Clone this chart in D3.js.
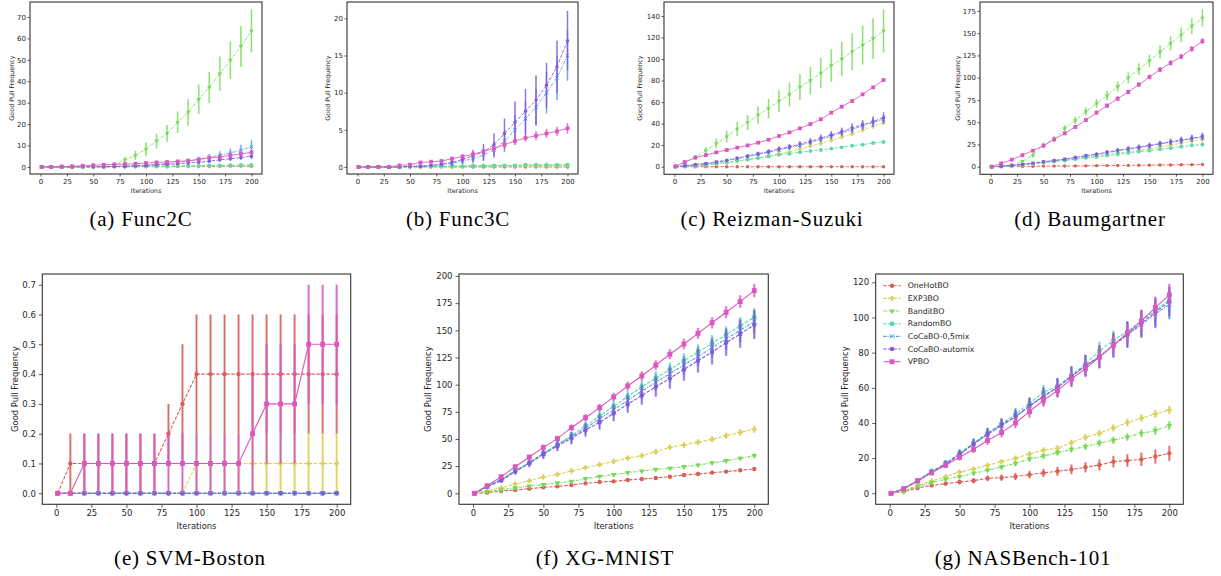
<!DOCTYPE html>
<html>
<head>
<meta charset="utf-8">
<script src="https://cdn.jsdelivr.net/npm/d3@7"></script>
<style>
body { margin: 0; background: #fff; }
svg { display: block; font-family: "DejaVu Sans", sans-serif; }
</style>
</head>
<body>
<script>
const w = 1221;
const h = 576;

const iters = [1, 10, 20, 30, 40, 50, 60, 70, 80, 90, 100, 110, 120, 130, 140, 150, 160, 170, 180, 190, 200];
const methods = ["OneHotBO", "EXP3BO", "BanditBO", "RandomBO", "CoCaBO-0,5mix", "CoCaBO-automix", "VPBO"];
const colors = ["#db5f57", "#dbd057", "#75db57", "#57dbaa", "#579bdb", "#8457db", "#db57c0"];
const xTicks = [0, 25, 50, 75, 100, 125, 150, 175, 200];

const yTicksFunc2C = [0, 10, 20, 30, 40, 50, 60, 70];
const yTicksFunc3C = [0, 5, 10, 15, 20];
const yTicksReizman = [0, 20, 40, 60, 80, 100, 120, 140];
const yTicksBaum = [0, 25, 50, 75, 100, 125, 150, 175];
const yTicksSvm = [0, 0.1, 0.2, 0.3, 0.4, 0.5, 0.6, 0.7];
const yTicksXg = [0, 25, 50, 75, 100, 125, 150, 175, 200];
const yTicksNas = [0, 20, 40, 60, 80, 100, 120];

// rows follow the order of methods
const meanFunc2C = [
  [0, 0, 0, 0, 0, 0, 0, 0.1, 0.1, 0.1, 0.1, 0.1, 0.1, 0.2, 0.2, 0.2, 0.2, 0.2, 0.3, 0.3, 0.3],
  [0, 0, 0, 0, 0, 0.1, 0.1, 0.1, 0.1, 0.2, 0.2, 0.2, 0.3, 0.3, 0.3, 0.4, 0.4, 0.5, 0.5, 0.5, 0.6],
  [0, 0, 0, 0, 0, 0, 0.1, 0.5, 3.3, 5.4, 8.3, 12.1, 15.7, 20.9, 25.5, 31.6, 37.2, 43.5, 49.8, 56.2, 63.5],
  [0, 0, 0, 0, 0.1, 0.1, 0.1, 0.2, 0.2, 0.3, 0.3, 0.4, 0.4, 0.5, 0.5, 0.6, 0.7, 0.7, 0.8, 0.9, 1.0],
  [0, 0, 0, 0.1, 0.1, 0.1, 0.2, 0.3, 0.4, 0.6, 0.9, 1.2, 1.6, 2.0, 2.8, 3.6, 4.5, 5.5, 6.5, 7.8, 9.5],
  [0, 0, 0, 0, 0.1, 0.1, 0.1, 0.2, 0.3, 0.5, 0.7, 1.0, 1.2, 1.5, 1.8, 2.2, 2.7, 3.3, 3.8, 4.4, 5.0],
  [0, 0, 0.2, 0.3, 0.5, 0.8, 1.0, 1.2, 1.3, 1.5, 1.8, 2.1, 2.3, 2.6, 2.9, 3.4, 4.3, 4.6, 5.4, 6.1, 6.8]
];
const errFunc2C = [
  [0, 0, 0, 0, 0, 0, 0, 0.1, 0.1, 0.1, 0.1, 0.1, 0.1, 0.1, 0.1, 0.2, 0.2, 0.2, 0.2, 0.2, 0.2],
  [0, 0, 0, 0, 0, 0.1, 0.1, 0.1, 0.1, 0.1, 0.2, 0.2, 0.2, 0.2, 0.2, 0.3, 0.3, 0.3, 0.3, 0.3, 0.4],
  [0, 0, 0, 0, 0, 0, 0.1, 0.5, 1.5, 2.1, 3.1, 3.4, 3.9, 5.0, 6.2, 6.8, 7.2, 8.0, 8.7, 9.5, 10.0],
  [0, 0, 0, 0, 0.1, 0.1, 0.1, 0.1, 0.1, 0.1, 0.2, 0.2, 0.2, 0.2, 0.2, 0.2, 0.3, 0.3, 0.3, 0.3, 0.3],
  [0, 0, 0, 0.1, 0.1, 0.1, 0.2, 0.2, 0.3, 0.4, 0.5, 0.6, 0.7, 0.8, 1.0, 1.2, 1.5, 1.8, 2.1, 2.5, 2.9],
  [0, 0, 0, 0, 0.1, 0.1, 0.1, 0.2, 0.2, 0.3, 0.3, 0.4, 0.4, 0.5, 0.6, 0.7, 0.8, 0.9, 1.0, 1.1, 1.3],
  [0, 0, 0.1, 0.1, 0.2, 0.2, 0.3, 0.3, 0.3, 0.4, 0.4, 0.4, 0.5, 0.5, 0.5, 0.6, 0.6, 0.7, 0.7, 0.8, 0.9]
];

const meanFunc3C = [
  [0, 0, 0, 0, 0, 0, 0, 0, 0, 0, 0, 0, 0, 0, 0, 0, 0, 0, 0, 0, 0],
  [0, 0, 0, 0, 0, 0, 0, 0, 0, 0, 0.1, 0.1, 0.1, 0.1, 0.1, 0.1, 0.1, 0.1, 0.1, 0.1, 0.1],
  [0, 0, 0, 0, 0, 0, 0, 0.1, 0.1, 0.1, 0.1, 0.1, 0.1, 0.2, 0.2, 0.2, 0.2, 0.2, 0.2, 0.2, 0.2],
  [0, 0, 0, 0, 0, 0, 0.1, 0.1, 0.1, 0.1, 0.1, 0.2, 0.2, 0.2, 0.2, 0.2, 0.3, 0.3, 0.3, 0.3, 0.3],
  [0, 0, 0, 0, 0, 0.1, 0.1, 0.2, 0.3, 0.5, 0.8, 1.1, 1.6, 2.3, 3.5, 5.0, 6.5, 8.0, 10.0, 12.0, 15.0],
  [0, 0, 0, 0, 0, 0.1, 0.1, 0.2, 0.4, 0.6, 1.0, 1.5, 2.0, 3.0, 4.5, 6.0, 7.5, 9.0, 11.0, 13.5, 17.0],
  [0, 0, 0, 0, 0.2, 0.3, 0.6, 0.7, 0.8, 1.1, 1.4, 1.7, 2.1, 2.5, 3.0, 3.5, 3.9, 4.2, 4.5, 4.8, 5.2]
];
const errFunc3C = [
  [0, 0, 0, 0, 0, 0, 0, 0, 0, 0, 0, 0, 0, 0, 0, 0, 0, 0, 0, 0, 0],
  [0, 0, 0, 0, 0, 0, 0, 0, 0, 0, 0.1, 0.1, 0.1, 0.1, 0.1, 0.1, 0.1, 0.1, 0.1, 0.1, 0.1],
  [0, 0, 0, 0, 0, 0, 0, 0.1, 0.1, 0.1, 0.1, 0.1, 0.1, 0.1, 0.1, 0.1, 0.1, 0.1, 0.1, 0.1, 0.1],
  [0, 0, 0, 0, 0, 0, 0.1, 0.1, 0.1, 0.1, 0.1, 0.1, 0.1, 0.1, 0.1, 0.2, 0.2, 0.2, 0.2, 0.2, 0.2],
  [0, 0, 0, 0, 0, 0.1, 0.1, 0.1, 0.2, 0.3, 0.4, 0.6, 0.8, 1.1, 1.5, 2.0, 2.3, 2.5, 2.8, 3.0, 3.4],
  [0, 0, 0, 0, 0, 0.1, 0.1, 0.2, 0.3, 0.4, 0.6, 0.8, 1.1, 1.5, 2.0, 2.8, 3.0, 3.3, 3.0, 3.5, 4.0],
  [0, 0, 0, 0, 0.1, 0.1, 0.2, 0.2, 0.2, 0.3, 0.3, 0.3, 0.4, 0.4, 0.5, 0.5, 0.5, 0.6, 0.6, 0.6, 0.7]
];

const meanReizman = [
  [0, 0, 0, 0, 0, 0, 0, 0, 0, 0, 0, 0, 0, 0, 0, 0, 0, 0, 0, 0, 0],
  [0, 0.5, 1, 1.5, 2.5, 3.5, 5, 6.5, 8, 10, 12, 14, 16.5, 19, 21.5, 24.5, 27.5, 30.5, 34, 37.5, 41],
  [0, 4, 9, 15, 21.5, 28, 35, 41, 48, 54, 61, 67, 74, 80, 87, 94, 100, 107, 113, 119, 126],
  [0, 0.5, 1, 2, 3, 4, 5.5, 6.8, 8, 9.5, 11, 12, 13.5, 14.5, 15.5, 16.8, 18, 19.5, 20.5, 22, 23],
  [0, 0.5, 1.5, 2.5, 4, 5.5, 7.5, 9.5, 11.5, 13.5, 15.5, 18, 20, 22.5, 25.5, 28.5, 31.5, 34.5, 38, 41, 44],
  [0, 1, 2, 3, 4.5, 6, 8, 10, 12, 14, 16.5, 18.5, 21, 23.5, 26.5, 29.5, 32.5, 36, 39, 42, 45.5],
  [0.5, 4.3, 8.4, 10.8, 13.3, 15.5, 17.7, 19.8, 22.3, 25.1, 28.5, 31.9, 35.6, 39.6, 44, 50.2, 55.8, 61, 67.2, 73.7, 80.5]
];
const errReizman = [
  [0, 0, 0, 0.3, 0.2, 0.2, 0.2, 0.2, 0.2, 0.2, 0.2, 0.2, 0.2, 0.2, 0.2, 0.2, 0.2, 0.2, 0.2, 0.2, 0.2],
  [0, 0.2, 0.4, 0.5, 0.6, 0.8, 0.8, 0.9, 1.1, 1.1, 1.2, 1.4, 1.4, 1.5, 1.7, 1.7, 1.8, 2.0, 2.0, 2.1, 2.3],
  [0, 1.0, 2.0, 3.1, 4.6, 5.4, 6.5, 7.0, 8.0, 9.0, 10.0, 11.0, 12.0, 12.7, 14.0, 15.0, 16.0, 17.0, 18.0, 18.7, 19.8],
  [0, 0.2, 0.3, 0.4, 0.5, 0.5, 0.6, 0.6, 0.7, 0.7, 0.8, 0.8, 0.9, 0.9, 1.0, 1.0, 1.1, 1.1, 1.2, 1.2, 1.3],
  [0, 0.3, 0.5, 0.7, 0.9, 1.1, 1.3, 1.5, 1.7, 1.9, 2.1, 2.3, 2.5, 2.7, 2.9, 3.1, 3.3, 3.5, 3.7, 3.9, 4.1],
  [0, 0.4, 0.6, 0.8, 1.0, 1.2, 1.5, 1.7, 1.9, 2.2, 2.4, 2.6, 2.9, 3.1, 3.4, 3.6, 3.8, 4.1, 4.3, 4.6, 4.9],
  [0, 0.3, 0.4, 0.4, 0.5, 0.5, 0.5, 0.6, 0.6, 0.6, 0.7, 0.7, 0.7, 0.8, 0.8, 0.8, 0.9, 0.9, 0.9, 1.0, 1.0]
];

const meanBaum = [
  [0, 0.2, 0.3, 0.4, 0.5, 0.7, 0.7, 0.8, 0.9, 1, 1.2, 1.3, 1.4, 1.5, 1.6, 1.8, 1.9, 2, 2.2, 2.3, 2.5],
  [0, 0.4, 1, 2, 3.2, 4.5, 5.8, 7.2, 8.8, 10.3, 11.8, 13.4, 15, 16.8, 18.5, 20.3, 22.2, 24.3, 26.5, 28.8, 31],
  [0, 0.2, 1, 6, 13, 24.5, 31, 43, 52, 62, 71, 80, 90, 100, 109.5, 119, 129, 138.5, 148, 158, 167],
  [0, 0.5, 1.5, 2.5, 3.5, 5, 6, 7, 8.5, 10, 11, 12.5, 14, 15.5, 17, 18, 19.5, 21, 22.5, 24, 25],
  [0, 0.5, 1.5, 2.5, 4, 5.3, 6.8, 8.3, 10, 12, 13.5, 15.5, 17.8, 19.5, 21.5, 23.3, 25.5, 27.3, 29.2, 31.5, 33.5],
  [0, 0.6, 1.6, 2.7, 4.1, 5.6, 7, 8.6, 10.5, 12.5, 14, 16.3, 18.5, 20.3, 22, 24, 26, 28, 30, 32, 34],
  [0, 3.7, 7.9, 13, 18, 23.6, 30.7, 37.5, 44.6, 52.5, 60.7, 68.6, 76.5, 84, 92.2, 100.8, 109, 116.6, 123.7, 132.3, 141]
];
const errBaum = [
  [0, 0.1, 0.2, 0.2, 0.2, 0.3, 0.3, 0.3, 0.3, 0.3, 0.4, 0.4, 0.4, 0.4, 0.4, 0.5, 0.5, 0.5, 0.5, 0.5, 0.6],
  [0, 0.3, 0.5, 0.7, 0.9, 1.0, 1.1, 1.2, 1.4, 1.5, 1.6, 1.8, 1.9, 2.0, 2.1, 2.3, 2.4, 2.5, 2.7, 2.8, 3.0],
  [0, 0.2, 0.8, 1.6, 2.3, 2.9, 3.3, 3.6, 4.1, 4.4, 5.0, 5.3, 5.6, 6.1, 6.5, 6.8, 7.4, 7.9, 8.3, 8.8, 9.5],
  [0, 0.3, 0.4, 0.5, 0.6, 0.7, 0.8, 0.9, 1.0, 1.0, 1.1, 1.2, 1.2, 1.3, 1.4, 1.4, 1.5, 1.6, 1.6, 1.7, 1.8],
  [0, 0.3, 0.5, 0.7, 0.9, 1.1, 1.3, 1.4, 1.6, 1.8, 2.0, 2.2, 2.4, 2.5, 2.7, 2.9, 3.1, 3.2, 3.4, 3.6, 3.8],
  [0, 0.4, 0.6, 0.8, 1.0, 1.2, 1.4, 1.6, 1.8, 2.0, 2.2, 2.4, 2.6, 2.8, 3.0, 3.1, 3.3, 3.5, 3.7, 3.9, 4.1],
  [0, 0.4, 0.6, 0.9, 1.1, 1.3, 1.5, 1.7, 1.9, 2.0, 2.2, 2.3, 2.5, 2.6, 2.7, 2.8, 2.9, 3.0, 3.1, 3.2, 3.3]
];

const meanSvm = [
  [0, 0.1, 0.1, 0.1, 0.1, 0.1, 0.1, 0.1, 0.2, 0.3, 0.4, 0.4, 0.4, 0.4, 0.4, 0.4, 0.4, 0.4, 0.4, 0.4, 0.4],
  [0, 0, 0, 0, 0, 0, 0, 0, 0, 0, 0.1, 0.1, 0.1, 0.1, 0.1, 0.1, 0.1, 0.1, 0.1, 0.1, 0.1],
  [0, 0, 0, 0, 0, 0, 0, 0, 0, 0, 0, 0, 0, 0, 0, 0, 0, 0, 0, 0, 0],
  [0, 0, 0, 0, 0, 0, 0, 0, 0, 0, 0, 0, 0, 0, 0, 0, 0, 0, 0, 0, 0],
  [0, 0, 0, 0, 0, 0, 0, 0, 0, 0, 0, 0, 0, 0, 0, 0, 0, 0, 0, 0, 0],
  [0, 0, 0, 0, 0, 0, 0, 0, 0, 0, 0, 0, 0, 0, 0, 0, 0, 0, 0, 0, 0],
  [0, 0, 0.1, 0.1, 0.1, 0.1, 0.1, 0.1, 0.1, 0.1, 0.1, 0.1, 0.1, 0.1, 0.2, 0.3, 0.3, 0.3, 0.5, 0.5, 0.5]
];
const errSvm = [
  [0, 0.1, 0.1, 0.1, 0.1, 0.1, 0.1, 0.1, 0.1, 0.2, 0.2, 0.2, 0.2, 0.2, 0.2, 0.2, 0.2, 0.2, 0.2, 0.2, 0.2],
  [0, 0, 0, 0, 0, 0, 0, 0, 0, 0, 0.1, 0.1, 0.1, 0.1, 0.1, 0.1, 0.1, 0.1, 0.1, 0.1, 0.1],
  [0, 0, 0, 0, 0, 0, 0, 0, 0, 0, 0, 0, 0, 0, 0, 0, 0, 0, 0, 0, 0],
  [0, 0, 0, 0, 0, 0, 0, 0, 0, 0, 0, 0, 0, 0, 0, 0, 0, 0, 0, 0, 0],
  [0, 0, 0, 0, 0, 0, 0, 0, 0, 0, 0, 0, 0, 0, 0, 0, 0, 0, 0, 0, 0],
  [0, 0, 0, 0, 0, 0, 0, 0, 0, 0, 0, 0, 0, 0, 0, 0, 0, 0, 0, 0, 0],
  [0, 0, 0.1, 0.1, 0.1, 0.1, 0.1, 0.1, 0.1, 0.1, 0.1, 0.1, 0.1, 0.1, 0.2, 0.2, 0.2, 0.2, 0.2, 0.2, 0.2]
];

const meanXg = [
  [0, 0.6, 2.1, 3, 4.3, 5.5, 6.4, 7.7, 9.2, 10.4, 11, 12.3, 13.2, 14.1, 15.3, 16.9, 17.8, 19, 20, 21.2, 22.4],
  [0, 2.5, 4.9, 8.6, 11.7, 15, 17.5, 20.5, 23.6, 26.4, 29.4, 32.5, 34.7, 38.3, 42.3, 44.5, 47, 49.7, 53, 56.1, 58.9],
  [0, 1.5, 3, 4.9, 6.7, 8, 9.5, 11, 13.5, 15.6, 17.2, 19, 20.5, 22, 23, 24.5, 26, 28, 30, 32.2, 34.7],
  [0, 6.5, 13, 21, 28.5, 37, 45, 53, 62, 71, 80, 89, 98, 106, 114, 122, 130, 138, 146, 154, 162],
  [0, 6.3, 12.5, 20.5, 28, 36.5, 44.5, 52, 60, 68.5, 77, 85.5, 94, 102, 110, 118, 126, 134, 142, 150, 158],
  [0, 6, 11.7, 20, 27.6, 35.9, 43.6, 50.6, 58.3, 65.3, 73.6, 82, 90, 98, 105.8, 114, 122, 130, 138.6, 146.6, 155],
  [0, 7, 15.3, 24.5, 33.4, 42.3, 50.3, 60.4, 69.6, 78.8, 88.7, 98.8, 108, 118, 128, 137.4, 147.2, 157, 166.6, 176.4, 186.5]
];
const errXg = [
  [0, 0.3, 0.4, 0.5, 0.5, 0.6, 0.6, 0.7, 0.7, 0.8, 0.8, 0.9, 0.9, 1.0, 1.0, 1.1, 1.1, 1.2, 1.2, 1.3, 1.4],
  [0, 0.5, 0.8, 1.0, 1.2, 1.3, 1.4, 1.5, 1.6, 1.8, 1.9, 2.0, 2.1, 2.3, 2.4, 2.5, 2.6, 2.7, 2.8, 3.0, 3.2],
  [0, 0.3, 0.5, 0.6, 0.7, 0.8, 0.9, 1.0, 1.0, 1.1, 1.2, 1.2, 1.3, 1.3, 1.4, 1.4, 1.5, 1.5, 1.6, 1.7, 1.8],
  [0, 0.8, 1.5, 2.0, 2.5, 3.0, 3.4, 3.8, 4.2, 4.6, 5.0, 5.4, 5.8, 6.2, 6.5, 6.8, 7.1, 7.4, 7.7, 8.0, 8.3],
  [0, 0.9, 1.7, 2.3, 2.9, 3.5, 4.0, 4.5, 5.0, 5.5, 6.0, 6.5, 7.0, 7.5, 8.0, 8.5, 9.0, 9.5, 10.0, 10.5, 11.0],
  [0, 1.0, 2.0, 2.8, 3.5, 4.2, 4.8, 5.4, 6.0, 6.6, 7.2, 7.8, 8.4, 9.0, 9.6, 10.2, 10.8, 11.4, 12.0, 12.6, 13.0],
  [0, 0.8, 1.2, 1.6, 2.0, 2.3, 2.6, 2.9, 3.2, 3.5, 3.8, 4.0, 4.2, 4.4, 4.6, 4.8, 5.0, 5.2, 5.5, 5.8, 6.0]
];

const meanNas = [
  [0, 1, 3, 4.5, 5.5, 6.4, 7.2, 8.5, 8.9, 9.5, 10.6, 11.6, 12.5, 13.6, 14.8, 16.1, 18, 18.6, 19.3, 20.9, 22.7],
  [0, 1.5, 4.5, 7, 9.5, 12.1, 13.8, 15.9, 18, 19.9, 22.4, 24.5, 25.6, 28.8, 31.8, 34.1, 37.2, 40.2, 42.7, 45.1, 47.4],
  [0, 1, 4, 6, 8, 9.5, 11.4, 13.1, 15, 17, 19.5, 21.2, 23.1, 25, 26.5, 28.6, 30.1, 32, 34.1, 35.6, 38.5],
  [0, 2.8, 7.5, 12.5, 17, 23, 28.5, 34.5, 39.5, 45, 51, 57.5, 61, 67, 73.5, 81, 87, 92, 98, 104, 110],
  [0, 2.6, 7.2, 12.2, 16.8, 22.3, 28.2, 33.5, 38.5, 43.5, 49.5, 55.5, 60, 66.5, 72.5, 77.5, 84, 90, 96, 102, 107.5],
  [0, 2.5, 7, 12, 16.5, 22, 28, 33.6, 38.9, 43.6, 49.7, 55, 60.3, 66.4, 72.6, 77.7, 84.4, 90.4, 96.7, 103, 109],
  [0, 2.5, 7, 11.6, 16, 20.5, 25, 30, 34.5, 40, 46.4, 52.9, 58.4, 65, 70.9, 77.5, 84.4, 91, 98, 105.6, 112.8]
];
const errNas = [
  [0, 0.5, 0.8, 1.0, 1.1, 1.3, 1.5, 1.6, 1.8, 2.0, 2.1, 2.3, 2.5, 2.7, 2.9, 3.1, 3.3, 3.5, 3.8, 4.0, 4.3],
  [0, 0.4, 0.6, 0.7, 0.8, 0.9, 1.0, 1.1, 1.2, 1.3, 1.4, 1.5, 1.6, 1.7, 1.8, 1.9, 2.0, 2.1, 2.2, 2.3, 2.4],
  [0, 0.4, 0.6, 0.7, 0.8, 0.9, 1.0, 1.1, 1.2, 1.3, 1.4, 1.5, 1.6, 1.7, 1.8, 1.9, 2.0, 2.1, 2.2, 2.3, 2.4],
  [0, 0.6, 1.0, 1.4, 1.8, 2.2, 2.5, 2.8, 3.1, 3.4, 3.7, 4.0, 4.3, 4.6, 4.9, 5.2, 5.5, 5.8, 6.1, 6.4, 6.7],
  [0, 0.7, 1.2, 1.7, 2.1, 2.5, 2.9, 3.3, 3.7, 4.1, 4.5, 4.9, 5.3, 5.7, 6.1, 6.5, 6.9, 7.3, 7.7, 8.1, 8.5],
  [0, 0.7, 1.2, 1.7, 2.1, 2.5, 2.9, 3.3, 3.7, 4.1, 4.5, 4.9, 5.3, 5.7, 6.1, 6.5, 6.9, 7.3, 7.7, 8.1, 8.5],
  [0, 0.5, 0.9, 1.2, 1.5, 1.8, 2.1, 2.4, 2.7, 3.0, 3.3, 3.6, 3.9, 4.2, 4.5, 4.8, 5.1, 5.4, 5.7, 6.2, 6.3]
];

// style for the small top row and the bigger bottom row
const small = {tick: 7, label: 6.4, tickLen: 2.5, lw: 0.85, ms: 0.6, bar: 1.8, core: 0.7, xPad: 2.5, yPad: 1.5, labDy: 19};
const big = {tick: 8.5, label: 8.4, tickLen: 3.5, lw: 1.1, ms: 1, bar: 2.6, core: 0.9, xPad: 2, yPad: 3, labDy: 24.5};

const panels = [
  {mean: meanFunc2C, err: errFunc2C, yTicks: yTicksFunc2C, box: [30, 2, 262, 174], yDom: [-3.3, 77], yLabX: 12, cap: "(a) Func2C", capX: 141, capY: 226, st: small},
  {mean: meanFunc3C, err: errFunc3C, yTicks: yTicksFunc3C, box: [347, 2, 578, 174], yDom: [-0.95, 22.2], yLabX: 328, cap: "(b) Func3C", capX: 458, capY: 226, st: small},
  {mean: meanReizman, err: errReizman, yTicks: yTicksReizman, box: [664, 2, 894, 174.3], yDom: [-7.06, 153], yLabX: 640, cap: "(c) Reizman-Suzuki", capX: 772, capY: 226, st: small},
  {mean: meanBaum, err: errBaum, yTicks: yTicksBaum, box: [980, 2, 1213, 174.3], yDom: [-8.5, 185], yLabX: 958, cap: "(d) Baumgartner", capX: 1090, capY: 226, st: small},
  {mean: meanSvm, err: errSvm, yTicks: yTicksSvm, box: [42.3, 274, 350.7, 504.3], yDom: [-0.037, 0.736], yLabX: 15, cap: "(e) SVM-Boston", capX: 190, capY: 565, st: big, fmt: ".1f"},
  {mean: meanXg, err: errXg, yTicks: yTicksXg, box: [459, 274, 768.3, 504.3], yDom: [-10.1, 201.8], yLabX: 428, cap: "(f) XG-MNIST", capX: 605, capY: 565, st: big},
  {mean: meanNas, err: errNas, yTicks: yTicksNas, box: [875.7, 274, 1183.3, 504.3], yDom: [-6.26, 124.7], yLabX: 845, cap: "(g) NASBench-101", capX: 1023, capY: 565, st: big, legend: true}
];

const dashes = ["3.5,1.5", "3.5,1.5", "3,1.2,1,1.2", "3.5,1.5", "3,1.2,1,1.2", "3.5,1.5", null];

const svg = d3.select("body")
  .append("svg")
  .attr("width", w)
  .attr("height", h);

svg.append("rect").attr("width", w).attr("height", h).attr("fill", "#fff");

// draw one marker of method i at (cx, cy)
function drawMarker(g, i, cx, cy, scale) {
  const c = colors[i];
  if (i === 4) {
    g.append("path")
      .attr("d", d3.symbol(d3.symbolTimes, 14 * scale)())
      .attr("transform", `translate(${cx},${cy})`)
      .attr("fill", "none").attr("stroke", c).attr("stroke-width", 1);
    return;
  }
  const types = [d3.symbolCircle, d3.symbolCross, d3.symbolTriangle, d3.symbolCircle, null, d3.symbolCircle, d3.symbolSquare];
  const sizes = [15, 16, 14, 19, 0, 15, 24];
  const rot = i === 2 ? " rotate(180)" : "";
  g.append("path")
    .attr("d", d3.symbol(types[i], sizes[i] * scale)())
    .attr("transform", `translate(${cx},${cy})${rot}`)
    .attr("fill", c);
}

panels.forEach(p => {
  const st = p.st;
  const [L, T, R, B] = p.box;
  const x = d3.scaleLinear().domain([-10, 210]).range([L, R]);
  const y = d3.scaleLinear().domain(p.yDom).range([B, T]);
  const g = svg.append("g");

  const xAxis = d3.axisBottom(x).tickValues(xTicks).tickSize(st.tickLen).tickPadding(st.xPad);
  const yAxis = d3.axisLeft(y).tickValues(p.yTicks).tickSize(st.tickLen).tickPadding(st.yPad);
  if (p.fmt) yAxis.tickFormat(d3.format(p.fmt));

  const gx = g.append("g").attr("transform", `translate(0,${B})`).call(xAxis);
  const gy = g.append("g").attr("transform", `translate(${L},0)`).call(yAxis);
  [gx, gy].forEach(a => {
    a.select(".domain").remove();
    a.selectAll("line").attr("stroke", "#333").attr("stroke-width", 0.8);
    a.selectAll("text").attr("fill", "#262626").style("font-size", st.tick + "px")
      .style("font-family", "'DejaVu Sans', sans-serif");
  });

  g.append("text")
    .attr("x", (L + R) / 2)
    .attr("y", B + st.labDy)
    .attr("text-anchor", "middle")
    .attr("fill", "#262626")
    .style("font-size", st.label + "px")
    .text("Iterations");

  g.append("text")
    .attr("transform", `translate(${p.yLabX},${(T + B) / 2}) rotate(-90)`)
    .attr("text-anchor", "middle")
    .attr("dy", "0.35em")
    .attr("fill", "#262626")
    .style("font-size", st.label + "px")
    .text("Good Pull Frequency");

  const line = d3.line().x((d, k) => x(iters[k])).y(d => y(d));

  methods.forEach((m, i) => {
    const mean = p.mean[i];
    const err = p.err[i];
    const c = colors[i];
    const bars = g.append("g");
    mean.forEach((v, k) => {
      if (err[k] <= 0) return;
      bars.append("line")
        .attr("x1", x(iters[k])).attr("x2", x(iters[k]))
        .attr("y1", y(v - err[k])).attr("y2", y(v + err[k]))
        .attr("stroke", c).attr("stroke-opacity", 0.5).attr("stroke-width", st.bar);
      bars.append("line")
        .attr("x1", x(iters[k])).attr("x2", x(iters[k]))
        .attr("y1", y(v - err[k])).attr("y2", y(v + err[k]))
        .attr("stroke", c).attr("stroke-width", st.core);
    });
    g.append("path")
      .datum(mean)
      .attr("d", line)
      .attr("fill", "none")
      .attr("stroke", c)
      .attr("stroke-width", st.lw)
      .attr("stroke-dasharray", dashes[i]);
    const mk = g.append("g");
    mean.forEach((v, k) => drawMarker(mk, i, x(iters[k]), y(v), st.ms));
  });

  g.append("rect")
    .attr("x", L).attr("y", T)
    .attr("width", R - L).attr("height", B - T)
    .attr("fill", "none")
    .attr("stroke", "#333")
    .attr("stroke-width", 1.1);

  if (p.legend) {
    const lg = g.append("g");
    methods.forEach((m, i) => {
      const ly = 285.7 + i * 12.67;
      lg.append("line")
        .attr("x1", 883.3).attr("x2", 900.7)
        .attr("y1", ly).attr("y2", ly)
        .attr("stroke", colors[i]).attr("stroke-width", 1.1)
        .attr("stroke-dasharray", dashes[i]);
      drawMarker(lg, i, 892, ly, 1);
      lg.append("text")
        .attr("x", 907.7).attr("y", ly)
        .attr("dy", "0.35em")
        .attr("fill", "#262626")
        .style("font-size", "7.8px")
        .text(m);
    });
  }

  svg.append("text")
    .attr("x", p.capX)
    .attr("y", p.capY)
    .attr("text-anchor", "middle")
    .attr("fill", "#000")
    .style("font-family", "'Liberation Serif', serif")
    .style("font-size", "21px")
    .style("letter-spacing", "0.8px")
    .text(p.cap);
});
</script>
</body>
</html>
